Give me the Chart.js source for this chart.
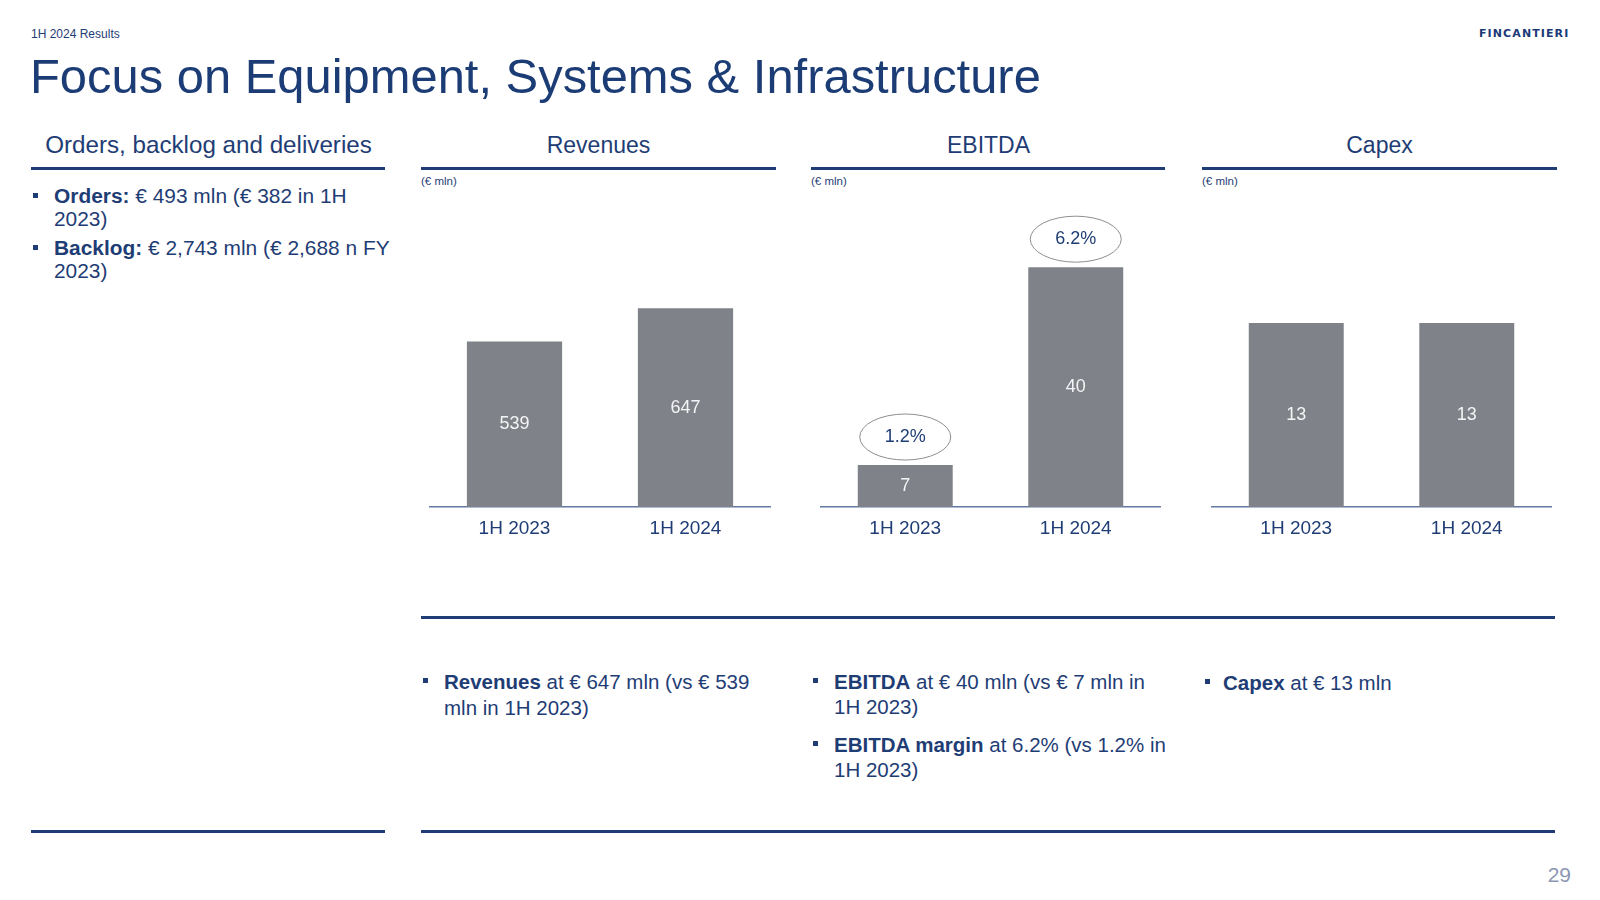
<!DOCTYPE html>
<html>
<head>
<meta charset="utf-8">
<script src="https://cdn.jsdelivr.net/npm/chart.js@4.4.1/dist/chart.umd.min.js"></script>
<style>
html,body{margin:0;padding:0;background:#fff;}
body{width:1600px;height:900px;position:relative;overflow:hidden;font-family:"Liberation Sans",Arial,sans-serif;color:#1f3d75;}
.abs{position:absolute;white-space:nowrap;}
.hline{position:absolute;height:3px;background:#1f3d75;}
.bul{position:absolute;width:5px;height:5px;background:#1f3d75;}
.head{position:absolute;top:131px;width:355px;text-align:center;font-size:23px;line-height:28px;white-space:nowrap;}
.body20{font-size:20.5px;}
canvas{position:absolute;}
b{font-weight:bold;}
</style>
</head>
<body>
<div class="abs" style="left:31px;top:27px;font-size:12px;line-height:14px;">1H 2024 Results</div>
<div class="abs" style="left:1479px;top:27px;font-family:'DejaVu Sans',sans-serif;font-weight:bold;font-size:11px;line-height:13px;letter-spacing:1.1px;color:#1b3a78;">FINCANTIERI</div>
<div class="abs" style="left:30px;top:48px;font-size:48.9px;line-height:56px;color:#1c3c76;">Focus on Equipment, Systems &amp; Infrastructure</div>

<div class="head" style="left:31px;font-size:24.2px;top:130.5px;">Orders, backlog and deliveries</div>
<div class="head" style="left:421px;">Revenues</div>
<div class="head" style="left:811px;">EBITDA</div>
<div class="head" style="left:1202px;">Capex</div>

<div class="hline" style="left:31px;width:354px;top:167px;"></div>
<div class="hline" style="left:421px;width:355px;top:167px;"></div>
<div class="hline" style="left:811px;width:354px;top:167px;"></div>
<div class="hline" style="left:1202px;width:355px;top:167px;"></div>

<div class="abs" style="left:421px;top:174px;font-size:11.5px;line-height:14px;">(€ mln)</div>
<div class="abs" style="left:811px;top:174px;font-size:11.5px;line-height:14px;">(€ mln)</div>
<div class="abs" style="left:1202px;top:174px;font-size:11.5px;line-height:14px;">(€ mln)</div>

<!-- top-left bullets -->
<div class="bul" style="left:33px;top:193px;"></div>
<div class="abs" style="left:54px;top:184px;line-height:23px;font-size:20.9px;"><b>Orders:</b> € 493 mln (€ 382 in 1H<br>2023)</div>
<div class="bul" style="left:33px;top:245px;"></div>
<div class="abs" style="left:54px;top:236px;line-height:23px;font-size:20.9px;"><b>Backlog:</b> € 2,743 mln (€ 2,688 n FY<br>2023)</div>

<canvas id="cRev" width="342" height="370" style="left:429px;top:180px;"></canvas>
<canvas id="cEbitda" width="341" height="370" style="left:820px;top:180px;"></canvas>
<canvas id="cCapex" width="341" height="370" style="left:1211px;top:180px;"></canvas>

<div class="hline" style="left:421px;width:1134px;top:616px;"></div>

<!-- bottom bullets -->
<div class="bul" style="left:423px;top:678px;"></div>
<div class="abs body20" style="left:444px;top:669px;line-height:26px;"><b>Revenues</b> at € 647 mln (vs € 539<br>mln in 1H 2023)</div>
<div class="bul" style="left:813px;top:678px;"></div>
<div class="abs body20" style="left:834px;top:669px;line-height:25px;"><b>EBITDA</b> at € 40 mln (vs € 7 mln in<br>1H 2023)</div>
<div class="bul" style="left:813px;top:741px;"></div>
<div class="abs body20" style="left:834px;top:732px;line-height:25px;"><b>EBITDA margin</b> at 6.2% (vs 1.2% in<br>1H 2023)</div>
<div class="bul" style="left:1205px;top:679px;"></div>
<div class="abs body20" style="left:1223px;top:669.5px;line-height:26px;"><b>Capex</b> at € 13 mln</div>

<div class="hline" style="left:31px;width:354px;top:830px;"></div>
<div class="hline" style="left:421px;width:1134px;top:830px;"></div>

<div class="abs" style="right:29px;top:862.7px;font-size:21px;line-height:24px;color:#8d97b3;">29</div>

<script>
// ---- data ----
const categories = ['1H 2023', '1H 2024'];
const revenues = [539, 647];
const ebitda = [7, 40];
const ebitdaMargin = [1.2, 6.2];
const capex = [13, 13];

// ---- styles ----
const NAVY = '#1f3d75';
const BAR = '#7f8389';
const AXIS = '#6378a3';
const FONT = '"Liberation Sans", Arial, sans-serif';

const valueLabels = {
  id: 'valueLabels',
  afterDatasetsDraw(chart) {
    const ctx = chart.ctx;
    const meta = chart.getDatasetMeta(0);
    const data = chart.data.datasets[0].data;
    ctx.save();
    ctx.font = '18px ' + FONT;
    ctx.fillStyle = '#f4f4f4';
    ctx.textAlign = 'center';
    ctx.textBaseline = 'middle';
    meta.data.forEach((bar, i) => {
      ctx.fillText(String(data[i]), bar.x, (bar.y + bar.base) / 2);
    });
    ctx.restore();
  }
};

const marginBubbles = {
  id: 'marginBubbles',
  afterDatasetsDraw(chart) {
    const ctx = chart.ctx;
    const meta = chart.getDatasetMeta(0);
    ctx.save();
    meta.data.forEach((bar, i) => {
      const cy = bar.y - 28;
      ctx.beginPath();
      ctx.ellipse(bar.x, cy, 45.5, 23, 0, 0, Math.PI * 2);
      ctx.strokeStyle = '#8e8e8e';
      ctx.lineWidth = 1;
      ctx.stroke();
      ctx.font = '18px ' + FONT;
      ctx.fillStyle = NAVY;
      ctx.textAlign = 'center';
      ctx.textBaseline = 'middle';
      ctx.fillText(ebitdaMargin[i].toFixed(1) + '%', bar.x, cy);
    });
    ctx.restore();
  }
};

function makeChart(id, values, yMax, extra) {
  return new Chart(document.getElementById(id), {
    type: 'bar',
    data: {
      labels: categories,
      datasets: [{
        data: values,
        backgroundColor: BAR,
        borderWidth: 0,
        barPercentage: 0.557,
        categoryPercentage: 1
      }]
    },
    options: {
      responsive: false,
      animation: false,
      devicePixelRatio: 1,
      layout: { padding: { top: 20, bottom: 3, left: 0, right: 0 } },
      plugins: { legend: { display: false }, tooltip: { enabled: false }, title: { display: false } },
      scales: {
        x: {
          grid: { display: false, drawTicks: false },
          border: { display: true, color: AXIS, width: 1.5 },
          ticks: { color: NAVY, font: { family: FONT, size: 19 }, padding: 10 },
          afterFit(s) { s.height = 40; }
        },
        y: { display: false, min: 0, max: yMax }
      }
    },
    plugins: [valueLabels].concat(extra || [])
  });
}

makeChart('cRev', revenues, 1000);
makeChart('cEbitda', ebitda, 51.2, [marginBubbles]);
makeChart('cCapex', capex, 21.7);
</script>
</body>
</html>
